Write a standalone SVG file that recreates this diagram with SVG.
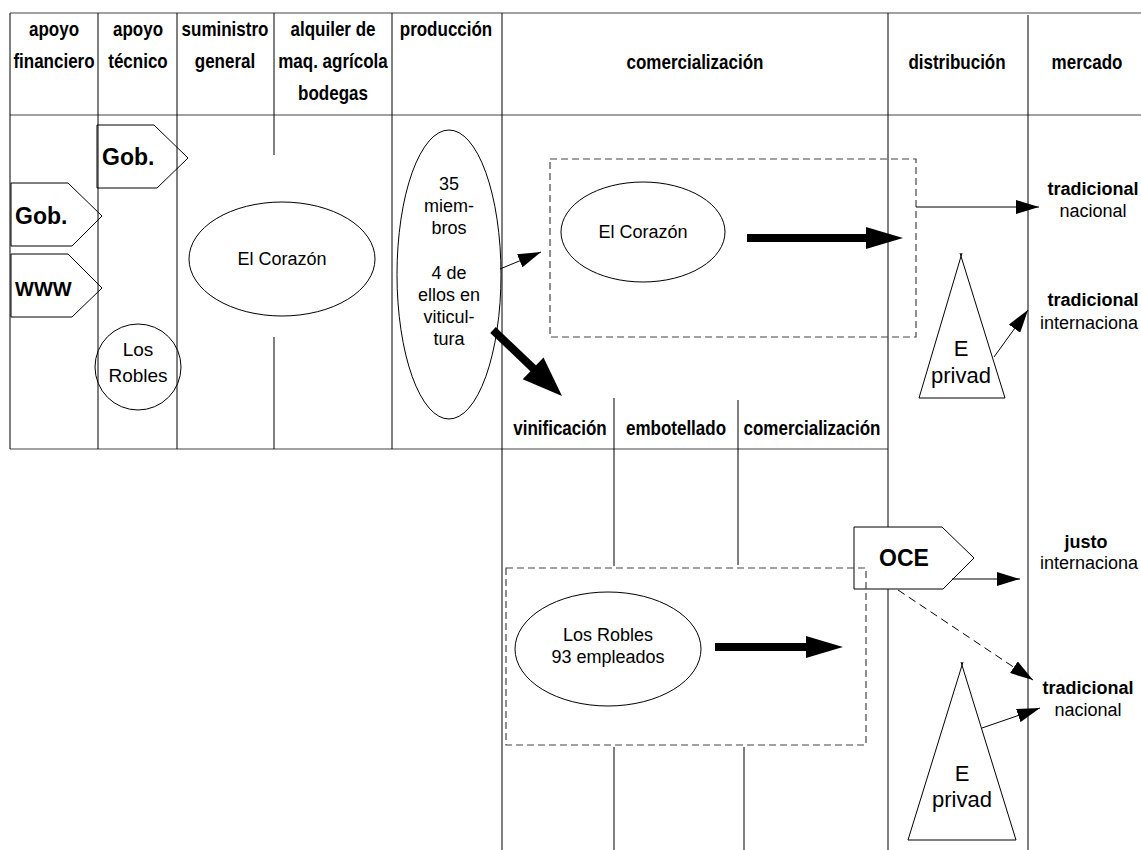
<svg xmlns="http://www.w3.org/2000/svg" width="1141" height="850" viewBox="0 0 1141 850">
<style>
.ln{stroke:#000;stroke-width:1;fill:none}
.gl{stroke:#444;stroke-width:1.2;fill:none}
.dash{stroke:#444;stroke-width:1.2;fill:none;stroke-dasharray:7,4}
.shape{stroke:#000;stroke-width:1;fill:none}
.hd{font-family:'Liberation Sans',Arial,sans-serif;font-weight:bold;font-size:20px;fill:#000;text-anchor:middle}
.tx{font-family:'Liberation Sans',Arial,sans-serif;font-size:18px;fill:#000;text-anchor:middle}
.txs{font-family:'Liberation Sans',Arial,sans-serif;font-size:18px;fill:#000;text-anchor:start}
.bt{font-family:'Liberation Sans',Arial,sans-serif;font-size:18px;font-weight:bold;fill:#000;text-anchor:middle}
.tag{font-family:'Liberation Sans',Arial,sans-serif;font-size:23px;font-weight:bold;fill:#000}
.big{font-family:'Liberation Sans',Arial,sans-serif;font-size:22px;fill:#000;text-anchor:middle}
.thin{stroke:#000;stroke-width:1;fill:none}
.thick{fill:#000;stroke:none}
</style>
<defs>
<marker id="ah" markerUnits="userSpaceOnUse" markerWidth="23" markerHeight="14" refX="23" refY="7" orient="auto">
<path d="M0,0 L23,7 L0,14 Z" fill="#000"/>
</marker>
</defs>
<g id="grid">
<path class="gl" d="M10,13 H1141 M10,115 H1141 M10,449 H888"/>
<path class="ln" d="M10,13 V449 M98,13 V449 M177,13 V449 M274,13 V155 M274,337 V449 M392,13 V449 M502,13 V850 M888,13 V850 M1028,15 V850 M614,398 V566 M614,747 V850 M738,400 V565 M744,747 V850"/>
</g>
<g id="headers">
<text class="hd" transform="translate(54,36) scale(0.85,1)">apoyo</text>
<text class="hd" transform="translate(54,68) scale(0.85,1)">financiero</text>
<text class="hd" transform="translate(138,36) scale(0.85,1)">apoyo</text>
<text class="hd" transform="translate(138,68) scale(0.85,1)">técnico</text>
<text class="hd" transform="translate(225,36) scale(0.85,1)">suministro</text>
<text class="hd" transform="translate(225,68) scale(0.85,1)">general</text>
<text class="hd" transform="translate(333,36) scale(0.85,1)">alquiler de</text>
<text class="hd" transform="translate(333,68) scale(0.85,1)">maq. agrícola</text>
<text class="hd" transform="translate(333,100) scale(0.85,1)">bodegas</text>
<text class="hd" transform="translate(446,36) scale(0.85,1)">producción</text>
<text class="hd" transform="translate(695,69) scale(0.85,1)">comercialización</text>
<text class="hd" transform="translate(957,69) scale(0.85,1)">distribución</text>
<text class="hd" transform="translate(1087,69) scale(0.85,1)">mercado</text>
<text class="hd" transform="translate(560,435) scale(0.85,1)">vinificación</text>
<text class="hd" transform="translate(676,435) scale(0.85,1)">embotellado</text>
<text class="hd" transform="translate(812,435) scale(0.85,1)">comercialización</text>
</g>
<g id="gob-tecnico">
<polygon class="shape" points="97,125 154,125 188,158 157,188 97,188"/>
<text class="tag" x="102" y="165">Gob.</text>
</g>
<g id="gob-financiero">
<polygon class="shape" points="11,183 68,183 102,216 72,246 11,246"/>
<text class="tag" x="15" y="224">Gob.</text>
</g>
<g id="www">
<polygon class="shape" points="11,254 68,254 102,288 72,317 11,317"/>
<text class="tag" x="15" y="296" style="font-size:20px">WWW</text>
</g>
<g id="los-robles-tecnico">
<circle class="shape" cx="138" cy="367" r="43"/>
<text class="tx" x="138" y="356" style="font-size:19px">Los</text>
<text class="tx" x="138" y="382" style="font-size:19px">Robles</text>
</g>
<g id="el-corazon-suministro">
<ellipse class="shape" cx="282" cy="259" rx="93" ry="57"/>
<text class="tx" x="282" y="265">El Corazón</text>
</g>
<g id="produccion">
<ellipse class="shape" cx="449" cy="274.5" rx="52" ry="144.5"/>
<text class="tx" x="449" y="190">35</text>
<text class="tx" x="449" y="212">miem-</text>
<text class="tx" x="449" y="234">bros</text>
<text class="tx" x="449" y="279">4 de</text>
<text class="tx" x="449" y="301">ellos en</text>
<text class="tx" x="449" y="323">viticul-</text>
<text class="tx" x="449" y="345">tura</text>
</g>
<g id="el-corazon-box">
<rect class="dash" x="550" y="159" width="366" height="178"/>
<ellipse class="shape" cx="643" cy="232" rx="82" ry="50"/>
<text class="tx" x="643" y="238">El Corazón</text>
</g>
<g id="oce">
<polygon points="854,527 942,527 974,558 943,589 854,589" fill="#fff" stroke="#000" stroke-width="1"/>
<text class="tag" x="904" y="566" text-anchor="middle">OCE</text>
</g>
<g id="los-robles-box">
<rect class="dash" x="506" y="568" width="360" height="177"/>
<ellipse class="shape" cx="608" cy="649" rx="93" ry="57"/>
<text class="tx" x="608" y="641">Los Robles</text>
<text class="tx" x="608" y="663">93 empleados</text>
</g>
<g id="e-privada-1">
<path class="shape" d="M919,398 L962,253 M1005,398 L960,253 M919,398 H1005"/>
<text class="big" x="961" y="356">E</text>
<text class="big" x="961" y="383">privad</text>
</g>
<g id="e-privada-2">
<path class="shape" d="M908,840 L963,662 M1016,840 L961,662 M908,840 H1016"/>
<text class="big" x="962" y="781">E</text>
<text class="big" x="962" y="807">privad</text>
</g>
<g id="mercados">
<text class="bt" x="1093" y="195">tradicional</text>
<text class="tx" x="1093" y="217">nacional</text>
<text class="bt" x="1093" y="306">tradicional</text>
<text class="txs" x="1040" y="329">internaciona</text>
<text class="bt" x="1086" y="548">justo</text>
<text class="txs" x="1040" y="569">internaciona</text>
<text class="bt" x="1088" y="694">tradicional</text>
<text class="tx" x="1088" y="716">nacional</text>
</g>
<g id="connectors">
<line class="thin" x1="500" y1="269" x2="541" y2="252" marker-end="url(#ah)"/>
<line class="thin" x1="916" y1="207" x2="1039" y2="207" marker-end="url(#ah)"/>
<line class="thin" x1="994" y1="357" x2="1028" y2="310" marker-end="url(#ah)"/>
<line class="thin" x1="952" y1="579" x2="1020" y2="579" marker-end="url(#ah)"/>
<line class="thin" x1="898" y1="590" x2="1033" y2="680" stroke-dasharray="8,5" marker-end="url(#ah)"/>
<line class="thin" x1="982" y1="728" x2="1040" y2="708" marker-end="url(#ah)"/>
<rect class="thick" x="747" y="234" width="123" height="8"/>
<polygon class="thick" points="866,227 903,238 866,249"/>
<rect class="thick" x="715" y="643" width="95" height="8"/>
<polygon class="thick" points="806,636 843,647 806,658"/>
<path d="M493,330 L536,371" stroke="#000" stroke-width="8" fill="none"/>
<polygon class="thick" points="522.7,379.2 562,396 543.5,357.6"/>
</g>
</svg>
